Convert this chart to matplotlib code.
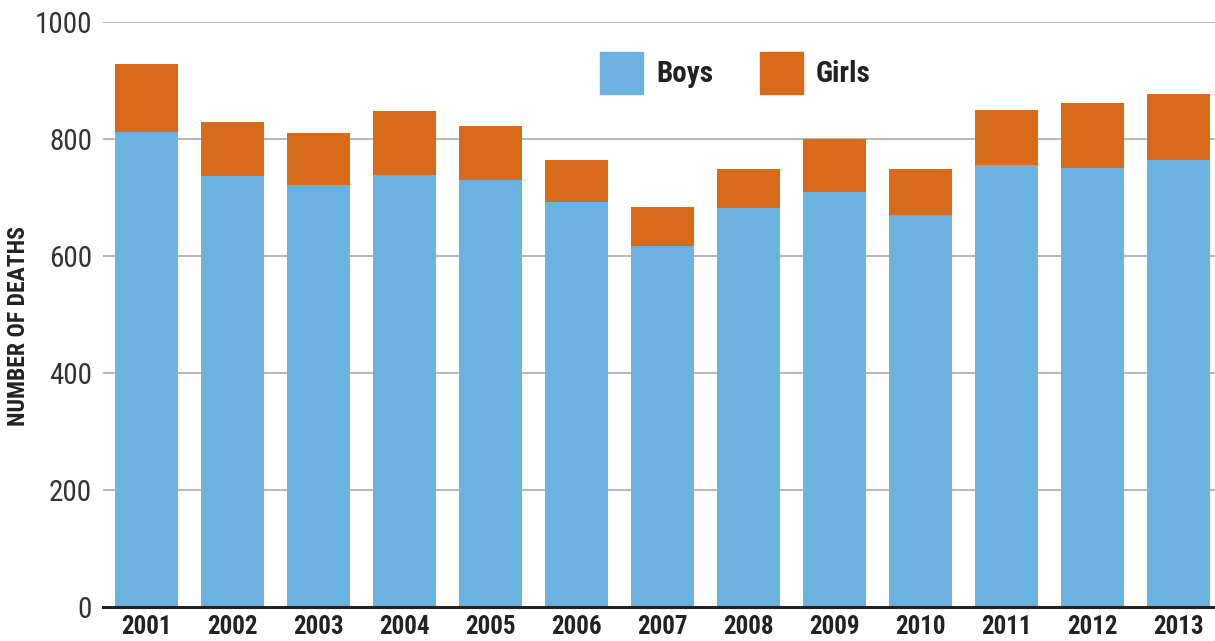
import numpy as np
import matplotlib.pyplot as plt
from matplotlib.patches import Patch

years = ['2001', '2002', '2003', '2004', '2005', '2006', '2007',
         '2008', '2009', '2010', '2011', '2012', '2013']
boys = [812, 737, 721, 738, 730, 692, 617, 682, 709, 670, 756, 750, 764]
girls = [116, 92, 89, 110, 92, 72, 67, 67, 91, 79, 94, 112, 113]

boys_color = '#6cb2e0'
girls_color = '#d86a1a'
fam = ['Roboto Condensed', 'Liberation Sans Narrow', 'Liberation Sans', 'DejaVu Sans']

fig = plt.figure(figsize=(12.15, 6.41), dpi=100)
ax = fig.add_axes([103 / 1215, 1 - 607 / 641, 1 - 103 / 1215, 585 / 641])

x = np.arange(len(years))
ax.bar(x, boys, width=0.73, color=boys_color, zorder=2)
ax.bar(x, girls, width=0.73, bottom=boys, color=girls_color, zorder=2)

ax.set_xlim(-0.506, 12.424)
ax.set_ylim(0, 1000)
ax.set_yticks([0, 200, 400, 600, 800, 1000])
ax.yaxis.grid(True, color='#aaaaaa', linewidth=1.2, zorder=0)
ax.set_axisbelow(True)

for s in ['top', 'right', 'left']:
    ax.spines[s].set_visible(False)
ax.spines['bottom'].set_color('#222222')
ax.spines['bottom'].set_linewidth(2.2)
ax.spines['bottom'].set_zorder(3)

ax.set_xticks(x)
ax.set_xticklabels(years, family=fam, fontsize=18, fontweight='bold', color='#222222')
ax.tick_params(axis='x', length=0, pad=6)
ax.tick_params(axis='y', length=0, pad=8)
for lbl in ax.get_yticklabels():
    lbl.set_family(fam)
    lbl.set_fontsize(21)
    lbl.set_color('#333333')

fig.text(19 / 1215, 1 - 326 / 641, 'NUMBER OF DEATHS', rotation=90, ha='center', va='center',
         family=fam, fontsize=17, fontweight='bold', color='#222222')

# legend placed in the top middle of the plot
handles = [Patch(color=boys_color, label='Boys'), Patch(color=girls_color, label='Girls')]
leg = fig.legend(handles=handles, loc='upper left', bbox_to_anchor=(600 / 1215, 1 - 52 / 641),
                 ncol=2, frameon=False, borderpad=0, borderaxespad=0,
                 handlelength=1.47, handleheight=1.84, handletextpad=0.45, columnspacing=1.6,
                 prop={'family': fam, 'size': 21, 'weight': 'bold'})
for t in leg.get_texts():
    t.set_color('#222222')

fig.savefig('out.png', dpi=100)
